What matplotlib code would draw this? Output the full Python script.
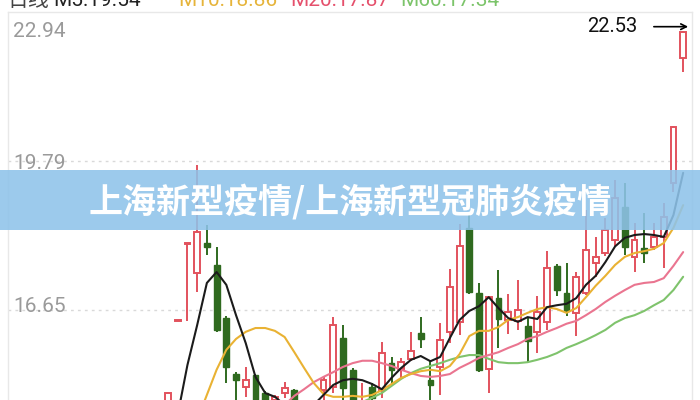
import matplotlib
matplotlib.use("Agg")
import numpy as np
import matplotlib.pyplot as plt
from matplotlib.patches import Rectangle

plt.rcParams['font.family'] = ['Roboto', 'Noto Sans CJK SC', 'DejaVu Sans']

# ---------------- DATA ----------------
opens = [14.50, 16.42, 18.05, 17.43, 18.06, 17.60, 16.48, 15.30, 15.03, 15.28,
         14.90, 14.75, 14.90, 14.96, 14.40, 14.55, 14.96, 15.03, 16.06, 15.39,
         14.60, 15.03, 14.96, 15.53, 15.41, 15.62, 16.17, 15.17, 15.45, 16.19,
         16.40, 18.38, 17.01, 15.41, 16.90, 16.44, 16.42, 16.31, 16.19, 16.40,
         17.58, 17.01, 16.59, 17.01, 17.64, 17.85, 18.13, 18.82, 17.77, 17.96,
         17.98, 18.19, 19.33, 21.96]
highs = [14.92, 16.44, 18.07, 19.71, 18.44, 17.98, 16.52, 15.34, 15.45, 15.30,
         14.95, 14.85, 15.13, 14.98, 14.70, 14.70, 15.24, 16.50, 16.33, 15.42,
         15.11, 15.11, 15.98, 15.66, 15.64, 16.19, 16.50, 15.60, 16.38, 17.51,
         18.46, 18.65, 17.22, 16.95, 17.49, 16.99, 17.28, 16.48, 16.95, 17.89,
         17.62, 17.64, 17.45, 18.76, 18.19, 18.59, 19.39, 19.33, 18.48, 18.69,
         18.48, 18.90, 20.53, 22.53]
lows = [14.40, 16.41, 16.42, 17.03, 17.81, 16.19, 15.11, 14.71, 14.82, 14.50,
        14.50, 14.60, 14.80, 14.50, 14.30, 14.30, 14.70, 14.90, 14.70, 14.50,
        14.50, 14.60, 14.80, 15.07, 15.20, 15.58, 15.85, 14.70, 14.86, 15.95,
        16.12, 16.99, 15.34, 14.90, 15.85, 16.14, 16.23, 15.55, 15.74, 16.23,
        16.95, 16.52, 16.10, 16.97, 17.35, 17.79, 17.98, 17.81, 17.45, 17.64,
        17.91, 17.53, 19.14, 21.67]
closes = [14.90, 16.43, 18.06, 18.29, 17.98, 16.23, 15.45, 15.17, 15.17, 14.60,
          14.60, 14.82, 15.00, 14.60, 14.60, 14.45, 15.17, 16.33, 15.01, 14.60,
          14.70, 14.80, 15.74, 15.39, 15.55, 15.79, 16.04, 15.07, 16.02, 17.13,
          17.99, 17.03, 15.39, 16.93, 16.46, 16.61, 16.65, 16.00, 16.61, 17.54,
          17.07, 16.63, 17.35, 17.91, 17.77, 18.34, 19.01, 17.98, 18.13, 17.85,
          18.19, 18.61, 20.51, 22.51]

nan = np.nan
ma5 = [13.90, 14.44, 15.49, 16.33, 17.22, 17.45, 17.18, 16.54, 15.95, 15.24,
       14.90, 14.82, 14.65, 14.54, 14.54, 14.65, 14.86, 15.07, 15.17, 15.20,
       15.17, 15.09, 14.98, 15.22, 15.43, 15.60, 15.68, 15.57, 15.66, 16.06,
       16.44, 16.63, 16.73, 16.92, 16.69, 16.48, 16.40, 16.50, 16.46, 16.71,
       16.75, 16.78, 16.90, 17.18, 17.37, 17.66, 17.99, 18.17, 18.23, 18.25,
       18.23, 18.19, 18.65, 19.54]
ma10 = [nan, 13.70, 14.20, 14.33, 14.86, 15.39, 15.81, 16.04, 16.19, 16.27,
        16.27, 16.21, 16.08, 15.76, 15.43, 15.11, 14.88, 14.82, 14.82, 14.84,
        14.82, 14.86, 14.96, 15.09, 15.22, 15.30, 15.36, 15.39, 15.36, 15.47,
        15.72, 16.10, 16.21, 16.21, 16.29, 16.44, 16.50, 16.59, 16.67, 16.71,
        16.67, 16.59, 16.69, 16.92, 17.16, 17.37, 17.60, 17.77, 17.85, 17.89,
        17.94, 18.06, 18.38, 18.86]
ma20 = [nan, nan, nan, nan, nan, nan, nan, nan, nan, nan,
        nan, 14.45, 14.65, 14.84, 14.98, 15.13, 15.24, 15.34, 15.45, 15.53,
        15.58, 15.58, 15.53, 15.47, 15.39, 15.32, 15.26, 15.24, 15.26, 15.30,
        15.43, 15.53, 15.64, 15.70, 15.76, 15.85, 15.93, 16.04, 16.10, 16.19,
        16.27, 16.36, 16.42, 16.54, 16.67, 16.82, 16.95, 17.07, 17.18, 17.22,
        17.24, 17.32, 17.58, 17.87]
ma60 = [nan, nan, nan, nan, nan, nan, nan, nan, nan, nan,
        nan, nan, nan, nan, nan, nan, nan, nan, nan, 14.55,
        14.71, 14.80, 14.90, 15.05, 15.20, 15.32, 15.41, 15.47, 15.53, 15.60,
        15.66, 15.70, 15.70, 15.62, 15.55, 15.53, 15.53, 15.55, 15.60, 15.66,
        15.74, 15.85, 15.93, 16.02, 16.12, 16.23, 16.38, 16.48, 16.54, 16.63,
        16.75, 16.86, 17.07, 17.35]

y_ticks = [22.94, 19.79, 16.65]
legend_parts = ["日线", "M5:19.54", "M10:18.86", "M20:17.87", "M60:17.34"]
max_label = "22.53"
title = "上海新型疫情/上海新型冠肺炎疫情"

# ---------------- STYLE ----------------
RED = "#e2525d"
GREEN = "#2f6a1f"
MA_COLORS = ["#1b1b1b", "#e9b233", "#ea7590", "#7fc36c"]
LEG_COLORS = ["#444444", "#222222", "#e6b43a", "#e5506c", "#7cc46a"]
GRID = "#d9d9d9"

fig = plt.figure(figsize=(7, 4), dpi=100)
ax = fig.add_axes([8 / 700, 0, 684 / 700, 388.5 / 400])

x = np.arange(len(closes))
o = np.array(opens)
c = np.array(closes)
up = c >= o

# wicks
ax.vlines(x[up], np.array(lows)[up], np.array(highs)[up], color=RED, lw=1.4, zorder=2)
ax.vlines(x[~up], np.array(lows)[~up], np.array(highs)[~up], color=GREEN, lw=1.4, zorder=2)

# bodies
bottom = np.minimum(o, c)
height = np.maximum(np.abs(c - o), 0.01)
ax.bar(x[up], height[up], bottom=bottom[up], width=0.6, facecolor="white",
       edgecolor=RED, linewidth=1.4, zorder=3)
ax.bar(x[~up], height[~up], bottom=bottom[~up], width=0.6, facecolor=GREEN,
       edgecolor=GREEN, linewidth=1.0, zorder=3)

# moving averages
for ma, col in zip([ma60, ma20, ma10, ma5], MA_COLORS[::-1]):
    ax.plot(x, ma, color=col, lw=1.5, zorder=4, solid_capstyle="round")

ax.set_xlim(-16.46, 53.91)
ax.set_ylim(14.753, 22.94)

for t in y_ticks[1:]:
    ax.axhline(t, color=GRID, lw=1.0, ls=(0, (2, 3)), zorder=1)

ax.spines["bottom"].set_visible(False)
for side in ["top", "left", "right"]:
    ax.spines[side].set_color("#e8e8e8")
    ax.spines[side].set_linewidth(1.0)
ax.set_xticks([])
ax.set_yticks([])

# y labels inside the plot
ytr = ax.get_yaxis_transform()
ax.text(0.008, 22.51, f"{y_ticks[0]:.2f}", transform=ytr,
        color="#9a9a9a", fontsize=15, va="center", ha="left")
ax.text(0.008, y_ticks[1] - 0.05, f"{y_ticks[1]:.2f}", transform=ytr,
        color="#9a9a9a", fontsize=15, va="center", ha="left")
ax.text(0.008, y_ticks[2] + 0.08, f"{y_ticks[2]:.2f}", transform=ytr,
        color="#9a9a9a", fontsize=15, va="center", ha="left")

# max price marker
ax.annotate("", xy=(53.8, 22.62), xytext=(49.7, 22.62),
            arrowprops=dict(arrowstyle="->", color="black", lw=1.2), zorder=6)
ax.text(48.3, 22.62, max_label, color="#111111", fontsize=14.5, ha="right", va="center")

# legend line, cut off at the top of the screenshot (as in the reference)
leg_x = [7, 53, 178, 290, 400]
for txt, lx, col in zip(legend_parts, leg_x, LEG_COLORS):
    fig.text(lx / 700, 1 - 6 / 400, txt, color=col, fontsize=15, va="baseline", ha="left")

# title banner
fig.add_artist(Rectangle((0, 1 - 230 / 400), 1, 60 / 400, transform=fig.transFigure,
                         facecolor="#8ec3ea", alpha=0.88, edgecolor="none", zorder=10))
fig.text(0.5, 1 - 202 / 400, title, color="white", fontsize=24.5, fontweight="bold",
         ha="center", va="center", family=["Noto Sans CJK SC", "DejaVu Sans"], zorder=11)

fig.savefig("out.png", dpi=100)
plt.close(fig)
